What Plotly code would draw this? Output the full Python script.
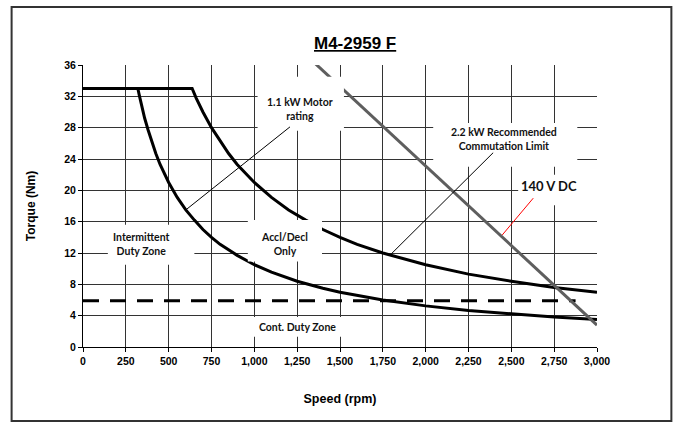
import plotly.graph_objects as go

# ---- data ----
speed_intermittent = [0, 320, 330, 340, 360, 380, 400, 425, 450, 475, 500, 550, 600, 650,
                      700, 750, 800, 900, 1000, 1100, 1250, 1400, 1500, 1750, 2000,
                      2250, 2500, 2750, 3000]
torque_intermittent = [33, 33, 32.0, 31.0, 29.2, 27.7, 26.3, 24.7, 23.3, 22.1, 21.0, 19.1,
                       17.5, 16.2, 15.0, 14.0, 13.1, 11.7, 10.5, 9.55, 8.4, 7.5, 7.0, 6.0,
                       5.25, 4.67, 4.2, 3.82, 3.5]

speed_accl = [0, 637, 660, 700, 750, 800, 850, 900, 950, 1000, 1100, 1200, 1300, 1400,
              1500, 1600, 1750, 2000, 2250, 2500, 2750, 3000]
torque_accl = [33, 33, 31.8, 30.0, 28.0, 26.3, 24.7, 23.3, 22.1, 21.0, 19.1, 17.5, 16.2,
               15.0, 14.0, 13.1, 12.0, 10.5, 9.3, 8.4, 7.6, 7.0]

speed_voltage = [1340, 3000]
torque_voltage = [36.5, 2.8]

speed_cont = [0, 2875]
torque_cont = [5.9, 5.9]

x_ticks = [0, 250, 500, 750, 1000, 1250, 1500, 1750, 2000, 2250, 2500, 2750, 3000]
y_ticks = [0, 4, 8, 12, 16, 20, 24, 28, 32, 36]

# label text, position (rpm, Nm), font size
labels = [
    ("1.1 kW Motor<br>rating", 1265, 30.4, 10.5),
    ("2.2 kW Recommended<br>Commutation Limit", 2460, 26.5, 10.5),
    ("140 V DC", 2720, 20.6, 13),
    ("Intermittent<br>Duty Zone", 340, 13.2, 10.5),
    ("Accl/Decl<br>Only", 1175, 13.2, 10.5),
    ("Cont. Duty Zone", 1250, 2.6, 10.5),
]
# white label backgrounds (x0, x1, y0, y1)
label_boxes = [
    (1019, 1523, 27.6, 34.5),
    (2044, 2885, 23.0, 28.6),
    (2540, 3020, 18.1, 22.0),
    (145, 650, 10.5, 15.6),
    (962, 1395, 10.9, 16.2),
    (974, 1529, 1.3, 3.83),
]
# leader lines (x_from, y_from, x_to, y_to, colour)
leaders = [
    (1208, 28.1, 600, 17.5, "black"),
    (2394, 24.8, 1800, 11.9, "black"),
    (2628, 19.0, 2447, 14.3, "red"),
]

fig = go.Figure()
fig.add_trace(go.Scatter(x=speed_cont, y=torque_cont, mode="lines",
                         line=dict(color="black", width=3, dash="16px,11px")))
fig.add_trace(go.Scatter(x=speed_intermittent, y=torque_intermittent, mode="lines",
                         line=dict(color="black", width=3)))
fig.add_trace(go.Scatter(x=speed_accl, y=torque_accl, mode="lines",
                         line=dict(color="black", width=3)))
fig.add_trace(go.Scatter(x=speed_voltage, y=torque_voltage, mode="lines",
                         line=dict(color="#5e5e5e", width=3), cliponaxis=False))

shapes = []
for x0, x1, y0, y1 in label_boxes:
    shapes.append(dict(type="rect", xref="x", yref="y", x0=x0, x1=x1, y0=y0, y1=y1,
                       fillcolor="white", line=dict(width=0), layer="above"))
for xa, ya, xb, yb, c in leaders:
    shapes.append(dict(type="line", xref="x", yref="y", x0=xa, y0=ya, x1=xb, y1=yb,
                       line=dict(color=c, width=1), layer="above"))
# outer frame
shapes.append(dict(type="rect", xref="paper", yref="paper",
                   x0=-0.1389, x1=1.1447, y0=-0.2624, y1=1.2057,
                   line=dict(color="#333333", width=2), fillcolor="rgba(0,0,0,0)",
                   layer="above"))

annotations = []
for txt, x, y, s in labels:
    annotations.append(dict(text="<b>" + txt + "</b>", x=x, y=y, xref="x", yref="y",
                            showarrow=False, font=dict(family="Lato", size=s, color="#111"),
                            align="center"))
annotations.append(dict(text="<b><u>M4-2959 F</u></b>", x=0.529, y=1.078,
                        xref="paper", yref="paper", showarrow=False,
                        xanchor="center", yanchor="middle",
                        font=dict(family="Liberation Sans", size=17, color="black")))

axis_font = dict(family="Liberation Sans", size=10.5, color="black", weight="bold")
fig.update_layout(
    width=679, height=422,
    margin=dict(l=83, r=82, t=65, b=75),
    paper_bgcolor="white", plot_bgcolor="white",
    showlegend=False,
    shapes=shapes, annotations=annotations,
    xaxis=dict(range=[0, 3000], tickvals=x_ticks, tickformat=",d",
               showgrid=True, gridcolor="#333333", gridwidth=1,
               showline=True, linecolor="black", linewidth=1,
               ticks="outside", ticklen=4, tickcolor="black",
               tickfont=axis_font, zeroline=False,
               title=dict(text="Speed (rpm)", standoff=28,
                          font=dict(family="Liberation Sans", size=12.5, color="black",
                                    weight="bold"))),
    yaxis=dict(range=[0, 36], tickvals=y_ticks,
               showgrid=True, gridcolor="#333333", gridwidth=1,
               showline=True, linecolor="black", linewidth=1,
               ticks="outside", ticklen=4, tickcolor="black",
               tickfont=axis_font, zeroline=False,
               title=dict(text="Torque (Nm)", standoff=26,
                          font=dict(family="Liberation Sans", size=12, color="black",
                                    weight="bold"))),
)

fig.write_html("out.html", config={"displayModeBar": False},
               post_script="document.body.style.margin='0';"
                           "document.body.style.overflow='hidden';")
